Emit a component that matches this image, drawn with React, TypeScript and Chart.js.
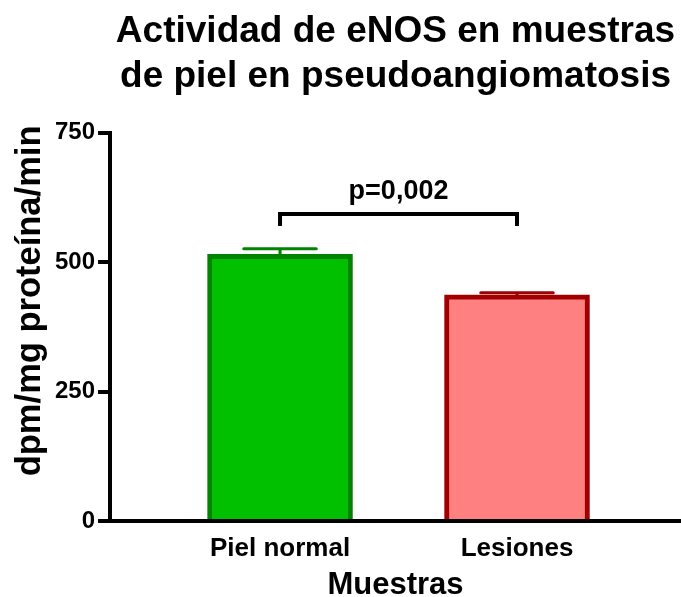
import React, { useEffect, useRef } from 'react';
import { Chart, registerables } from 'chart.js';

Chart.register(...registerables);

// ---- data ----
const categories = ['Piel normal', 'Lesiones'];
const categoryPositions = [1, 2];
const means = [515, 437];
const errors = [11, 4];
const yTicks = [0, 250, 500, 750];
const titleLines = ['Actividad de eNOS en muestras', 'de piel en pseudoangiomatosis'];
const yTitle = 'dpm/mg proteína/min';
const xTitle = 'Muestras';
const significanceLabel = 'p=0,002';
const bracketTopValue = 593;
const bracketDropValue = 570;

const fillColors = ['#00C000', '#FF8080'];
const edgeColors = ['#008400', '#A00000'];
const FONT = '"Liberation Sans", Arial, Helvetica, sans-serif';

const errorBarPlugin = {
  id: 'errorBars',
  afterDatasetsDraw(chart: any) {
    const ctx = chart.ctx;
    const yScale = chart.scales.y;
    const meta = chart.getDatasetMeta(0);
    meta.data.forEach((bar: any, i: number) => {
      const x = bar.x;
      const yBase = yScale.getPixelForValue(means[i]);
      const yTop = yScale.getPixelForValue(means[i] + errors[i]);
      const half = bar.width / 4;
      ctx.save();
      ctx.strokeStyle = edgeColors[i];
      ctx.lineWidth = 3;
      ctx.lineCap = 'round';
      ctx.beginPath();
      ctx.moveTo(x, yBase);
      ctx.lineTo(x, yTop);
      ctx.moveTo(x - half, yTop);
      ctx.lineTo(x + half, yTop);
      ctx.stroke();
      ctx.restore();
    });
  },
};

const bracketPlugin = {
  id: 'bracket',
  afterDatasetsDraw(chart: any) {
    const ctx = chart.ctx;
    const xs = chart.scales.x;
    const ys = chart.scales.y;
    const x1 = xs.getPixelForValue(categoryPositions[0]);
    const x2 = xs.getPixelForValue(categoryPositions[1]);
    const yT = ys.getPixelForValue(bracketTopValue);
    const yD = ys.getPixelForValue(bracketDropValue);
    ctx.save();
    ctx.strokeStyle = '#000';
    ctx.lineWidth = 4;
    ctx.lineJoin = 'miter';
    ctx.beginPath();
    ctx.moveTo(x1, yD);
    ctx.lineTo(x1, yT);
    ctx.lineTo(x2, yT);
    ctx.lineTo(x2, yD);
    ctx.stroke();
    ctx.fillStyle = '#000';
    ctx.font = `bold 27px ${FONT}`;
    ctx.textAlign = 'center';
    ctx.textBaseline = 'alphabetic';
    ctx.fillText(significanceLabel, (x1 + x2) / 2, yT - 15);
    ctx.restore();
  },
};

const yTitlePlugin = {
  id: 'yTitle',
  afterDraw(chart: any) {
    const ctx = chart.ctx;
    const area = chart.chartArea;
    ctx.save();
    ctx.translate(30, (area.top + area.bottom) / 2 - 26);
    ctx.rotate(-Math.PI / 2);
    ctx.fillStyle = '#000';
    ctx.font = `bold 34.5px ${FONT}`;
    ctx.textAlign = 'center';
    ctx.textBaseline = 'middle';
    ctx.fillText(yTitle, 0, 0);
    ctx.restore();
  },
};

export default function App() {
  const canvasRef = useRef<HTMLCanvasElement | null>(null);

  useEffect(() => {
    document.body.style.margin = '0';
    const canvas = canvasRef.current;
    if (!canvas) return;
    Chart.defaults.font.family = FONT;

    const chart = new Chart(canvas, {
      type: 'bar',
      data: {
        datasets: [
          {
            data: categoryPositions.map((x, i) => ({ x, y: means[i] })),
            backgroundColor: fillColors,
            borderColor: edgeColors,
            borderWidth: 5,
            borderSkipped: 'bottom',
            barThickness: 145,
          } as any,
        ],
      },
      options: {
        responsive: false,
        animation: false,
        layout: { padding: { left: 52, right: 0, top: 0, bottom: 0 } },
        plugins: {
          legend: { display: false },
          tooltip: { enabled: false },
          title: {
            display: true,
            text: titleLines,
            color: '#000',
            font: { size: 37, weight: 'bold', family: FONT },
            padding: { top: 10, bottom: 34 },
            fullSize: false,
          } as any,
        },
        scales: {
          x: {
            type: 'linear',
            offset: false,
            min: 0.2827,
            max: 2.692,
            afterBuildTicks: (s: any) => {
              s.ticks = categoryPositions.map((v) => ({ value: v }));
            },
            ticks: {
              callback: (v: any) => categories[categoryPositions.indexOf(Number(v))],
              color: '#000',
              font: { size: 26, weight: 'bold', family: FONT, lineHeight: 1 },
              padding: 15,
              maxRotation: 0,
              autoSkip: false,
            },
            grid: { display: false, drawTicks: false },
            border: { display: true, color: '#000', width: 4 },
            title: {
              display: true,
              text: xTitle,
              color: '#000',
              font: { size: 31, weight: 'bold', family: FONT, lineHeight: 1 },
              padding: { top: -7, bottom: -4 },
            },
          } as any,
          y: {
            min: 0,
            max: 750,
            afterBuildTicks: (s: any) => {
              s.ticks = yTicks.map((v) => ({ value: v }));
            },
            ticks: {
              color: '#000',
              font: { size: 24, weight: 'bold', family: FONT },
              padding: 3,
            },
            grid: {
              drawOnChartArea: false,
              drawTicks: true,
              tickLength: 12,
              lineWidth: 4,
              color: '#000',
            },
            border: { display: true, color: '#000', width: 4 },
          } as any,
        },
      },
      plugins: [errorBarPlugin, bracketPlugin, yTitlePlugin],
    });

    return () => chart.destroy();
  }, []);

  return (
    <div style={{ width: 681, height: 597 }}>
      <canvas ref={canvasRef} width={681} height={597} style={{ display: 'block' }} />
    </div>
  );
}
